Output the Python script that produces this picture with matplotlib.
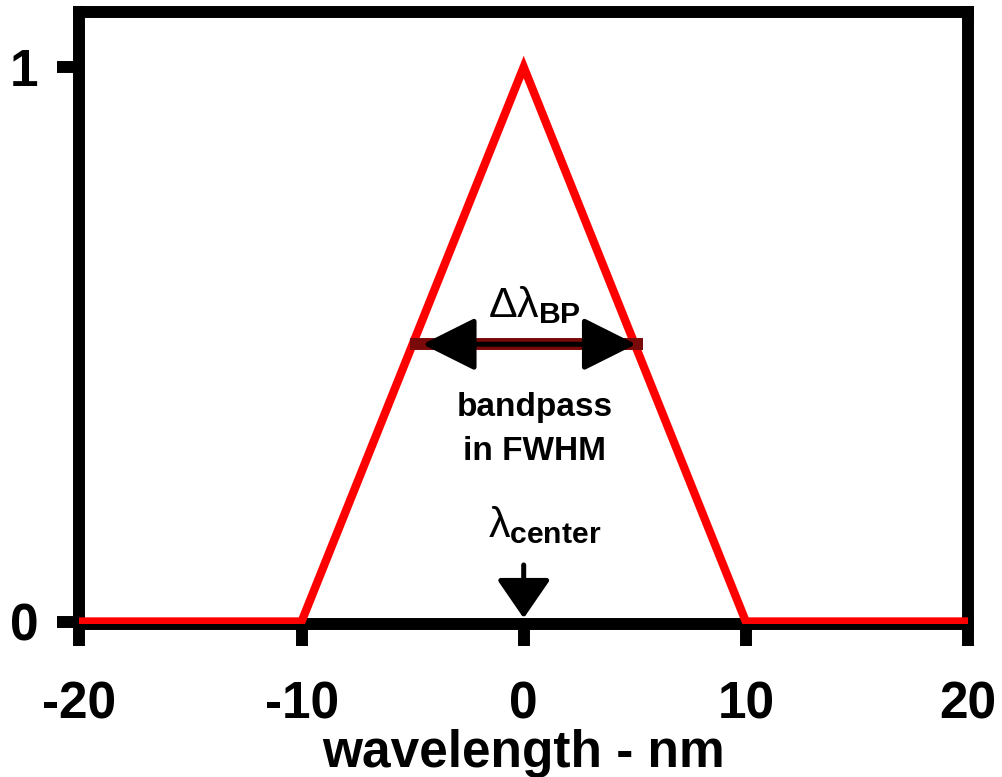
import matplotlib
matplotlib.use("Agg")
import matplotlib.pyplot as plt

# data
wavelength = [-20, -10, 0, 10, 20]
transmission = [0, 0, 1, 0, 0]
x_ticks = [-20, -10, 0, 10, 20]
y_ticks = [0, 1]
y_tick_labels = ["0", "1"]
half_max = 0.5
fwhm_left, fwhm_right = -5, 5
center = 0

plt.rcParams['font.family'] = ['Liberation Sans', 'DejaVu Sans']
plt.rcParams['mathtext.fontset'] = 'custom'
plt.rcParams['mathtext.rm'] = 'Liberation Sans:regular'
plt.rcParams['mathtext.it'] = 'Liberation Sans:regular'
plt.rcParams['mathtext.bf'] = 'Liberation Sans:bold'

fig = plt.figure(figsize=(10.02, 7.77), dpi=100)
ax = fig.add_axes([0.0793, 1 - 624 / 777, 0.966 - 0.0793, (624 - 12) / 777])

ax.plot(wavelength, transmission, color='#ff0000', lw=6, zorder=3, solid_joinstyle='miter')

ax.set_xlim(-20, 20)
ax.set_ylim(-0.0045, 1.0992)
for s in ax.spines.values():
    s.set_linewidth(8.6)
ax.set_xticks(x_ticks)
ax.set_xticklabels([str(v) for v in x_ticks])
ax.set_yticks(y_ticks)
ax.set_yticklabels(y_tick_labels)
ax.tick_params(axis='both', length=16, width=8.6, labelsize=37, direction='out')
ax.tick_params(axis='x', pad=24.5)
ax.tick_params(axis='y', pad=13.5)
for lab in ax.get_xticklabels() + ax.get_yticklabels():
    lab.set_fontweight('bold')
ax.set_xlabel('wavelength - nm', fontsize=37, fontweight='bold', labelpad=0)

# FWHM band and double arrow
ax.plot([fwhm_left - 0.14, fwhm_right + 0.36], [half_max, half_max], color='#7a0a0a', lw=8.6, zorder=4,
        solid_capstyle='butt')
ax.annotate('', xy=(fwhm_left + 0.45, half_max), xytext=(fwhm_right + 0.05, half_max),
            arrowprops=dict(arrowstyle='<|-|>,head_length=33,head_width=16.5', mutation_scale=1,
                            color='black', lw=3.6, shrinkA=0, shrinkB=0), zorder=5)
ax.text(0.5, 0.549, r'$\Delta\lambda_{\mathbf{BP}}$', fontsize=31, fontweight='normal',
        ha='center', va='baseline')
ax.text(0.5, 0.371, 'bandpass', fontsize=24, fontweight='bold', ha='center', va='baseline')
ax.text(0.5, 0.291, 'in FWHM', fontsize=24, fontweight='bold', ha='center', va='baseline')

# center arrow
ax.annotate('', xy=(center, 0.006), xytext=(center, 0.102),
            arrowprops=dict(arrowstyle='-|>,head_length=24,head_width=16.5', mutation_scale=1,
                            color='black', lw=3.6, shrinkA=0, shrinkB=0), zorder=5)
ax.text(0.95, 0.152, r'$\lambda_{\mathbf{center}}$', fontsize=31, fontweight='normal',
        ha='center', va='baseline')

fig.savefig('out.png', dpi=100)
